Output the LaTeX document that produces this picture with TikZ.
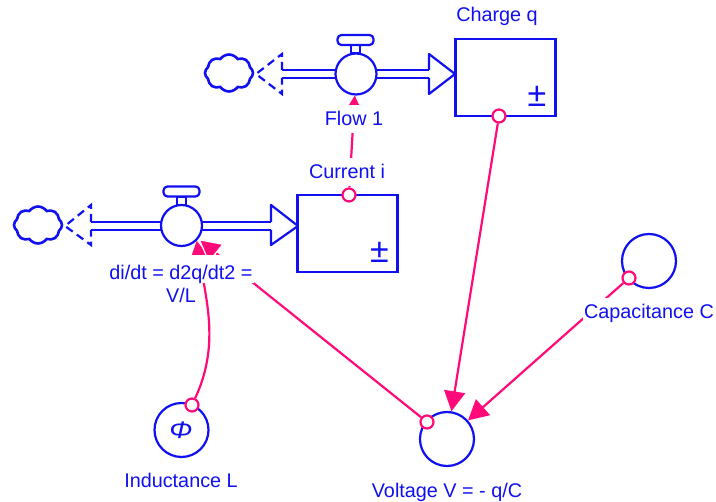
\documentclass[tikz,border=0pt]{standalone}
\usepackage{fontspec}
\setmainfont{Liberation Sans}
\usetikzlibrary{arrows.meta,positioning,shapes.symbols}
\definecolor{diagblue}{RGB}{16,16,240}
\definecolor{linkpink}{RGB}{255,10,120}

\begin{document}
\begin{tikzpicture}[
  stockbox/.style = {draw=diagblue, line width=2.2pt, fill=white, minimum width=100pt, minimum height=77pt, inner sep=0pt},
  valve/.style    = {draw=diagblue, line width=2.2pt, fill=white, circle, minimum size=41pt, inner sep=0pt},
  handle/.style   = {draw=diagblue, line width=2.2pt, fill=white, rounded corners=4pt, minimum width=36pt, minimum height=10pt, inner sep=0pt},
  stem/.style     = {draw=diagblue, line width=2.2pt, fill=white, minimum width=9pt, minimum height=9pt, inner sep=0pt},
  auxcirc/.style  = {draw=diagblue, line width=2.2pt, fill=white, circle, minimum size=54pt, inner sep=0pt},
  ring/.style     = {draw=linkpink, line width=2.2pt, fill=white, circle, minimum size=13pt, inner sep=0pt},
  puff/.style     = {draw=diagblue, line width=2.6pt, fill=white, cloud, cloud puffs=8, cloud puff arc=110, aspect=1.3, minimum width=48pt, minimum height=37pt, inner sep=0pt},
  pipe/.style     = {draw=diagblue, line width=2.2pt, double=white, double distance=5.8pt},
  flowhead/.style = {draw=diagblue, line width=2.2pt, line join=round},
  sourcetip/.style= {draw=diagblue, line width=2.2pt, dash pattern=on 8pt off 5pt},
  link/.style     = {draw=linkpink, line width=2.2pt, -{Triangle[length=20pt,width=21pt]}},
  lbl/.style      = {fill=white, text=diagblue, inner xsep=1pt, inner ysep=0pt, text height=21pt, text depth=7pt, font=\fontsize{19.8}{23}\selectfont},
  x=1pt, y=-1pt,
]
  \useasboundingbox (0,0) rectangle (716,502);

  % upper flow
  \node[puff] (cloudq) at (229,73) {};
  \draw[sourcetip] (282,70) -- (282,54) -- (256,74) -- (282,94) -- (282,78);
  \draw[pipe] (282,74) -- (429,74);
  \draw[flowhead] (429,70) -- (429,54) -- (455,74) -- (429,94) -- (429,78);
  \node[stockbox] (chargeq) at (505.5,77.5) {};
  \node[stem] (stemq) at (355.5,49) {};
  \node[handle] (handleq) at (355.5,40) {};
  \node[valve] (flowone) at (356,74) {};

  % lower flow
  \node[puff] (cloudi) at (38,225) {};
  \draw[sourcetip] (91,222) -- (91,205) -- (65,226) -- (91,245) -- (91,230);
  \draw[pipe] (91,226) -- (271,226);
  \draw[flowhead] (271,222) -- (271,205) -- (298,226) -- (271,245) -- (271,230);
  \node[stockbox] (currenti) at (347.5,233.5) {};
  \node[stem] (stemi) at (181.5,201) {};
  \node[handle] (handlei) at (181.5,191.5) {};
  \node[valve] (flowdi) at (181.5,225.5) {};

  % converters
  \node[auxcirc] (inductl) at (181.5,430) {};
  \node[auxcirc] (voltv) at (447,439) {};
  \node[auxcirc] (capc) at (649,261) {};

  % signs
  \node[text=diagblue, inner sep=0pt, font=\fontsize{34}{34}\selectfont] (pmq) at (537,96) {±};
  \node[text=diagblue, inner sep=0pt, font=\fontsize{34}{34}\selectfont] (pmi) at (379.5,252) {±};
  \node[text=diagblue, inner sep=0pt, xscale=1.15, font=\fontsize{24}{24}\selectfont\itshape] (phil) at (181,430) {Φ};

  % rings
  \node[ring] (ringi) at (349,195) {};
  \node[ring] (ringq) at (499,116) {};
  \node[ring] (ringl) at (192,405) {};
  \node[ring] (ringv) at (427,422) {};
  \node[ring] (ringc) at (629,278) {};

  % links
  \draw[link] (ringi) -- (flowone);
  \draw[link] (ringq) -- (voltv);
  \draw[link] (ringc) -- (voltv);
  \draw[link] (ringl) .. controls (220,345) and (206,300) .. (flowdi.-45);
  \draw[link, -{Triangle[length=23pt,width=24pt,fill=linkpink,color=white,line width=1.2pt]}] (ringv) -- (flowdi);

  % labels
  \node[lbl, fill=none] (lblcharge) at (497,15) {Charge q};
  \node[lbl] (lblflow) at (354,119) {Flow 1};
  \node[lbl] (lblcurrent) at (347,172) {Current i};
  \node[lbl, text height=25pt, text depth=3pt, anchor=base] (lbldidt) at (181,280) {di/dt = d2q/dt2 =};
  \node[lbl, fill=none, anchor=base] (lblvl) at (181,303) {V/L};
  \node[lbl] (lblcap) at (649,312) {Capacitance C};
  \node[lbl, fill=none] (lblind) at (181,481) {Inductance L};
  \node[lbl, fill=none] (lblvolt) at (447,491) {Voltage V = - q/C};
\end{tikzpicture}
\end{document}
